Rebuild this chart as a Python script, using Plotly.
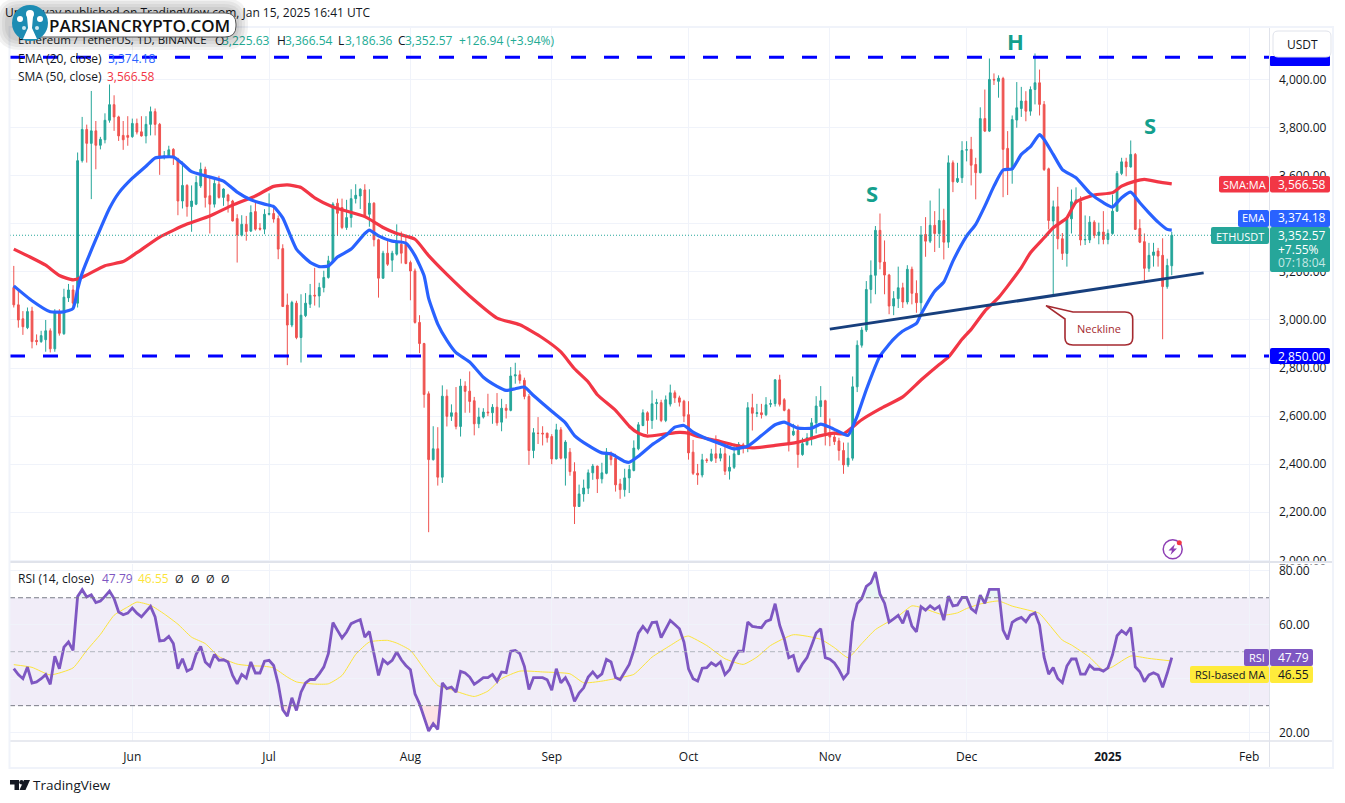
import numpy as np
import pandas as pd
import plotly.graph_objects as go

W, H = 1345, 803
FONT = "Open Sans"
GREEN = "#26a69a"
RED = "#ef5350"
TEXT = "#131722"
GRID = "#f0f3fa"
FRAME = "#e0e3eb"

# Daily candles, May 6 2024 to Jan 15 2025, one line per month.
opens = [
    3135, 3063, 3005, 2968, 3037, 2915, 2910, 2918, 2955, 2880, 3035, 2943, 3092, 3125, 3070, 3663, 3793, 3735, 3787, 3727, 3750, 3831, 3896, 3845, 3768, 3768,
    3763, 3818, 3783, 3766, 3814, 3867, 3814, 3677, 3680, 3710, 3671, 3495, 3560, 3472, 3482, 3558, 3627, 3517, 3482, 3565, 3510, 3520, 3495, 3422, 3353, 3398, 3370, 3451, 3382, 3378,
    3440, 3443, 3422, 3297, 3062, 2979, 3070, 2927, 3018, 3066, 3103, 3100, 3135, 3177, 3246, 3486, 3468, 3385, 3426, 3505, 3516, 3541, 3440, 3486, 3334, 3174, 3278, 3249, 3274, 3315, 3315,
    3239, 3204, 2990, 2902, 2693, 2419, 2464, 2346, 2683, 2599, 2614, 2557, 2725, 2704, 2664, 2568, 2596, 2617, 2614, 2637, 2575, 2633, 2624, 2767, 2772, 2749, 2682, 2457, 2529, 2529, 2529,
    2515, 2422, 2543, 2425, 2450, 2369, 2224, 2276, 2300, 2364, 2392, 2339, 2362, 2443, 2425, 2318, 2294, 2343, 2374, 2464, 2561, 2614, 2582, 2652, 2656, 2582, 2650, 2697, 2676, 2662,
    2606, 2450, 2362, 2355, 2418, 2415, 2443, 2425, 2443, 2371, 2387, 2440, 2481, 2478, 2635, 2611, 2614, 2606, 2649, 2652, 2751, 2668, 2626, 2522, 2540, 2440, 2481, 2510, 2572, 2640, 2664,
    2531, 2513, 2497, 2457, 2397, 2425, 2722, 2895, 2958, 3127, 3186, 3373, 3241, 3187, 3058, 3089, 3134, 3075, 3211, 3111, 3072, 3356, 3328, 3394, 3360, 3414, 3324, 3654, 3575, 3592,
    3707, 3710, 3647, 3613, 3838, 3786, 4001, 3993, 4005, 3714, 3626, 3832, 3880, 3911, 3869, 3959, 3987, 3897, 3629, 3412, 3471, 3338, 3277, 3421, 3492, 3492, 3333, 3333, 3407, 3352, 3366,
    3335, 3360, 3453, 3610, 3658, 3637, 3689, 3381, 3326, 3215, 3269, 3287, 3269, 3139, 3225.63,
]
highs = [
    3225, 3130, 3037, 3052, 3055, 2940, 2955, 3000, 2965, 3045, 3045, 3130, 3150, 3145, 3697, 3845, 3813, 3953, 3828, 3762, 3860, 3980, 3935, 3850, 3828, 3848,
    3838, 3838, 3848, 3848, 3888, 3880, 3820, 3703, 3725, 3715, 3675, 3659, 3565, 3560, 3600, 3655, 3638, 3592, 3592, 3600, 3548, 3525, 3500, 3440, 3436, 3433, 3477, 3495, 3403, 3461,
    3527, 3470, 3435, 3315, 3110, 3080, 3080, 3107, 3112, 3150, 3217, 3155, 3205, 3267, 3490, 3505, 3505, 3500, 3544, 3565, 3548, 3565, 3544, 3490, 3338, 3288, 3329, 3288, 3398, 3368, 3350,
    3247, 3214, 3020, 2905, 2703, 2558, 2554, 2728, 2711, 2649, 2721, 2755, 2745, 2786, 2680, 2635, 2633, 2693, 2650, 2696, 2672, 2650, 2804, 2822, 2790, 2760, 2692, 2550, 2596, 2558, 2531,
    2525, 2568, 2554, 2500, 2467, 2408, 2315, 2336, 2378, 2401, 2394, 2406, 2467, 2453, 2443, 2339, 2381, 2397, 2499, 2575, 2628, 2620, 2707, 2672, 2668, 2686, 2731, 2707, 2685, 2668,
    2662, 2501, 2401, 2443, 2425, 2464, 2520, 2467, 2478, 2436, 2485, 2492, 2489, 2658, 2693, 2651, 2651, 2679, 2669, 2753, 2772, 2675, 2631, 2568, 2564, 2510, 2529, 2592, 2683, 2725, 2668,
    2590, 2535, 2510, 2490, 2490, 2765, 2915, 2970, 3162, 3248, 3391, 3443, 3331, 3192, 3120, 3222, 3155, 3228, 3222, 3165, 3391, 3428, 3497, 3453, 3547, 3463, 3685, 3664, 3654, 3744,
    3744, 3762, 3675, 3885, 3959, 4088, 4026, 4018, 4012, 3786, 3851, 3990, 3970, 3952, 3972, 4109, 4042, 3911, 3634, 3497, 3554, 3362, 3433, 3543, 3552, 3515, 3435, 3432, 3415, 3405, 3453,
    3377, 3522, 3620, 3675, 3675, 3747, 3695, 3419, 3360, 3321, 3321, 3300, 3340, 3255, 3366.54,
]
lows = [
    3052, 2968, 2938, 2962, 2882, 2895, 2905, 2868, 2865, 2868, 2935, 2938, 3075, 3052, 3052, 3655, 3655, 3503, 3627, 3710, 3735, 3821, 3787, 3745, 3708, 3725,
    3758, 3772, 3763, 3735, 3768, 3768, 3604, 3668, 3675, 3645, 3436, 3464, 3430, 3367, 3478, 3550, 3468, 3360, 3468, 3505, 3475, 3447, 3410, 3239, 3348, 3330, 3366, 3372, 3372, 3357,
    3435, 3405, 3253, 3056, 2812, 2970, 2920, 2823, 3012, 3050, 3060, 3052, 3115, 3172, 3240, 3350, 3378, 3375, 3385, 3485, 3462, 3425, 3388, 3306, 3093, 3172, 3225, 3200, 3268, 3235, 3232,
    3082, 2985, 2862, 2635, 2117, 2415, 2311, 2322, 2557, 2580, 2545, 2515, 2614, 2614, 2520, 2550, 2590, 2600, 2568, 2560, 2537, 2590, 2620, 2735, 2735, 2670, 2397, 2425, 2484, 2478, 2490,
    2400, 2420, 2420, 2311, 2352, 2151, 2222, 2244, 2276, 2335, 2280, 2320, 2358, 2395, 2286, 2256, 2265, 2280, 2370, 2458, 2558, 2526, 2547, 2585, 2575, 2575, 2640, 2655, 2640, 2575,
    2419, 2355, 2314, 2345, 2405, 2410, 2405, 2412, 2355, 2336, 2380, 2438, 2445, 2450, 2540, 2596, 2590, 2600, 2637, 2640, 2640, 2620, 2453, 2517, 2385, 2435, 2478, 2478, 2528, 2596, 2478,
    2475, 2480, 2415, 2360, 2388, 2415, 2700, 2885, 2950, 3069, 3107, 3211, 3107, 3024, 3020, 3050, 3050, 3065, 3065, 3030, 3035, 3263, 3320, 3283, 3300, 3252, 3300, 3532, 3570, 3570,
    3660, 3560, 3502, 3610, 3782, 3782, 3978, 3925, 3511, 3520, 3567, 3800, 3845, 3827, 3850, 3897, 3851, 3620, 3377, 3107, 3294, 3250, 3222, 3360, 3485, 3310, 3312, 3320, 3340, 3315, 3315,
    3315, 3355, 3450, 3603, 3598, 3634, 3375, 3320, 3162, 3200, 3222, 3222, 2920, 3130, 3186.36,
]
closes = [
    3063, 3000, 2972, 3035, 2910, 2910, 2935, 2955, 2880, 3035, 2945, 3095, 3125, 3070, 3663, 3793, 3735, 3787, 3727, 3752, 3831, 3896, 3845, 3766, 3750, 3760,
    3818, 3782, 3766, 3814, 3867, 3814, 3677, 3682, 3708, 3680, 3495, 3560, 3472, 3495, 3572, 3627, 3510, 3482, 3568, 3510, 3545, 3495, 3412, 3354, 3398, 3368, 3447, 3378, 3378, 3440,
    3443, 3420, 3295, 3056, 2979, 3073, 2927, 3020, 3070, 3103, 3100, 3135, 3177, 3246, 3482, 3444, 3385, 3426, 3505, 3519, 3544, 3433, 3486, 3334, 3174, 3278, 3232, 3278, 3322, 3278, 3235,
    3204, 2990, 2902, 2690, 2419, 2464, 2346, 2683, 2599, 2614, 2557, 2725, 2703, 2661, 2568, 2596, 2617, 2614, 2637, 2572, 2633, 2624, 2767, 2772, 2749, 2682, 2457, 2531, 2528, 2526, 2510,
    2422, 2543, 2425, 2492, 2369, 2224, 2276, 2301, 2364, 2392, 2339, 2364, 2450, 2419, 2314, 2294, 2343, 2378, 2467, 2564, 2614, 2582, 2651, 2656, 2582, 2668, 2697, 2676, 2658, 2600,
    2447, 2362, 2355, 2418, 2415, 2443, 2425, 2443, 2371, 2387, 2443, 2482, 2475, 2635, 2612, 2614, 2606, 2647, 2652, 2751, 2649, 2624, 2485, 2537, 2440, 2485, 2510, 2572, 2642, 2664, 2531,
    2513, 2494, 2457, 2397, 2425, 2722, 2895, 2958, 3127, 3186, 3373, 3241, 3187, 3058, 3089, 3134, 3075, 3211, 3111, 3072, 3353, 3328, 3394, 3360, 3414, 3324, 3654, 3575, 3589, 3705,
    3708, 3644, 3613, 3838, 3786, 4001, 3999, 4006, 3710, 3626, 3834, 3883, 3911, 3869, 3959, 3987, 3897, 3626, 3414, 3471, 3338, 3277, 3421, 3492, 3500, 3333, 3335, 3407, 3352, 3366, 3335,
    3360, 3453, 3610, 3658, 3637, 3689, 3377, 3324, 3215, 3269, 3283, 3266, 3139, 3227, 3352.57,
]

ema_dates = [
    "2024-05-06", "2024-05-10", "2024-05-14", "2024-05-17", "2024-05-19", "2024-05-20", "2024-05-21", "2024-05-24", "2024-05-27", "2024-05-29",
    "2024-06-01", "2024-06-04", "2024-06-06", "2024-06-10", "2024-06-12", "2024-06-14", "2024-06-17", "2024-06-21", "2024-06-24", "2024-06-27", "2024-06-30",
    "2024-07-02", "2024-07-04", "2024-07-07", "2024-07-10", "2024-07-12", "2024-07-14", "2024-07-16", "2024-07-19", "2024-07-22", "2024-07-23", "2024-07-25", "2024-07-28", "2024-07-31",
    "2024-08-02", "2024-08-04", "2024-08-05", "2024-08-07", "2024-08-09", "2024-08-11", "2024-08-14", "2024-08-17", "2024-08-20", "2024-08-22", "2024-08-24", "2024-08-26", "2024-08-28",
    "2024-09-01", "2024-09-04", "2024-09-06", "2024-09-09", "2024-09-12", "2024-09-14", "2024-09-17", "2024-09-18", "2024-09-20", "2024-09-23", "2024-09-26", "2024-09-28", "2024-09-30",
    "2024-10-02", "2024-10-05", "2024-10-08", "2024-10-11", "2024-10-14", "2024-10-17", "2024-10-20", "2024-10-22", "2024-10-25", "2024-10-28", "2024-10-30",
    "2024-11-01", "2024-11-04", "2024-11-05", "2024-11-07", "2024-11-09", "2024-11-12", "2024-11-15", "2024-11-17", "2024-11-20", "2024-11-21", "2024-11-24", "2024-11-26", "2024-11-28",
    "2024-12-01", "2024-12-03", "2024-12-05", "2024-12-07", "2024-12-09", "2024-12-11", "2024-12-13", "2024-12-15", "2024-12-17", "2024-12-18", "2024-12-20", "2024-12-22", "2024-12-25", "2024-12-28", "2024-12-31",
    "2025-01-02", "2025-01-04", "2025-01-06", "2025-01-08", "2025-01-10", "2025-01-12", "2025-01-14", "2025-01-15",
]
ema_values = [
    3142, 3080, 3034, 3034, 3048, 3128, 3195, 3335, 3465, 3528,
    3590, 3640, 3674, 3678, 3650, 3617, 3600, 3578, 3532, 3500, 3482,
    3472, 3425, 3295, 3240, 3222, 3225, 3262, 3295, 3360, 3374, 3350, 3328, 3320,
    3268, 3184, 3090, 2983, 2915, 2864, 2825, 2762, 2724, 2707, 2714, 2721, 2686,
    2620, 2572, 2519, 2478, 2447, 2443, 2411, 2408, 2433, 2481, 2519, 2554, 2561,
    2533, 2506, 2485, 2464, 2475, 2519, 2564, 2575, 2550, 2550, 2567,
    2554, 2526, 2520, 2600, 2710, 2850, 2920, 2954, 2986, 3024, 3120, 3158, 3245,
    3349, 3398, 3474, 3557, 3624, 3629, 3689, 3721, 3771, 3751, 3689, 3626, 3592, 3529, 3488,
    3470, 3509, 3532, 3488, 3446, 3407, 3377, 3374.18,
]

sma_dates = [
    "2024-05-06", "2024-05-10", "2024-05-13", "2024-05-16", "2024-05-19", "2024-05-21", "2024-05-26", "2024-05-30",
    "2024-06-02", "2024-06-07", "2024-06-13", "2024-06-18", "2024-06-23", "2024-06-28",
    "2024-07-02", "2024-07-05", "2024-07-08", "2024-07-11", "2024-07-15", "2024-07-22", "2024-07-26", "2024-07-29",
    "2024-08-02", "2024-08-05", "2024-08-09", "2024-08-15", "2024-08-20", "2024-08-25", "2024-08-30",
    "2024-09-03", "2024-09-06", "2024-09-09", "2024-09-11", "2024-09-15", "2024-09-18", "2024-09-20", "2024-09-22", "2024-09-26", "2024-09-29",
    "2024-10-01", "2024-10-03", "2024-10-07", "2024-10-11", "2024-10-15", "2024-10-20", "2024-10-25", "2024-10-30",
    "2024-11-02", "2024-11-04", "2024-11-08", "2024-11-12", "2024-11-17", "2024-11-21", "2024-11-25", "2024-11-27", "2024-11-30",
    "2024-12-02", "2024-12-05", "2024-12-08", "2024-12-10", "2024-12-13", "2024-12-15", "2024-12-18", "2024-12-20", "2024-12-23", "2024-12-25", "2024-12-29",
    "2025-01-02", "2025-01-04", "2025-01-07", "2025-01-09", "2025-01-12", "2025-01-15",
]
sma_values = [
    3295, 3258, 3228, 3185, 3167, 3178, 3226, 3243,
    3280, 3345, 3399, 3433, 3478, 3516,
    3556, 3562, 3551, 3508, 3470, 3430, 3385, 3360,
    3336, 3268, 3190, 3083, 3008, 2980, 2925,
    2867, 2797, 2742, 2689, 2624, 2558, 2529, 2517, 2526, 2532,
    2529, 2515, 2499, 2480, 2468, 2478, 2492, 2519,
    2529, 2526, 2585, 2630, 2680, 2750, 2815, 2845, 2920,
    2961, 3037, 3093, 3141, 3218, 3280, 3342, 3384, 3425, 3491, 3520,
    3530, 3557, 3578, 3585, 3575, 3566.58,
]

# RSI (14), same days as the candles.
rsi_values = [
    43.7, 41.5, 40, 44.3, 38.4, 38.8, 40, 41.5, 37.9, 48.3, 43.7, 51.7, 53.6, 50.5, 70.5, 73, 70.3, 71.1, 68.2, 68.8, 70.5, 72.5, 69.7, 64.7, 63.7, 64.3,
    66.2, 64.3, 62.9, 64.7, 66.8, 62.9, 54, 54.2, 55.7, 53, 43.7, 47.4, 42.8, 43.7, 49, 52, 46.2, 44.6, 49, 46.8, 47, 46.2, 41.2, 38.1, 41.6, 40.2, 46.2, 42.1, 42.1, 46.5,
    46.8, 44.9, 38.1, 28.5, 26.1, 32.9, 28.2, 35, 38.4, 39.7, 39.7, 41.8, 44.3, 49.3, 60.8, 57.9, 55.1, 57.3, 60.4, 61.2, 61.9, 55.4, 57.5, 49.3, 41.2, 47, 45.5, 46.8, 49.9, 47, 44.9,
    43.3, 34.4, 30.7, 25.8, 20.6, 23.3, 21.2, 38.4, 36.3, 36.9, 35, 42.7, 42.1, 40.6, 37.9, 39.1, 40.4, 40.4, 41.6, 39.1, 42.5, 42.2, 50.2, 50.5, 49.3, 44.6, 36, 40.4, 40.4, 40.4, 39.6,
    35.7, 43.7, 38.5, 40.4, 37.1, 31.6, 34.7, 36.6, 40.6, 42.5, 40.4, 41.8, 47.2, 46.2, 40.4, 39.6, 42.5, 45.3, 50.5, 56.9, 59.4, 57.3, 60.8, 61, 55.2, 58.2, 61.6, 60.1, 58.5, 53.6,
    43.7, 40, 39.1, 43.9, 44.1, 45.9, 44.8, 46.2, 41.5, 43.3, 47.4, 50.2, 50.2, 61, 59.4, 59.1, 58.9, 61.2, 61.9, 67.8, 59.8, 54.8, 47.8, 48.6, 42.5, 45.5, 47.8, 52.3, 56.9, 58.5, 47.8,
    47.2, 45.8, 43.3, 40, 42.1, 61, 67.8, 69.7, 74.2, 75.5, 79.5, 71.3, 68, 61, 62.2, 63.5, 60.5, 65.2, 59.5, 57.4, 66.7, 65.4, 67, 65.7, 66.9, 61.7, 70.6, 67, 67.3, 70.1,
    70.1, 66, 64.6, 71, 67.9, 73.1, 73.1, 73.1, 58, 54.6, 60.9, 62, 62.7, 61.1, 63.6, 64.4, 59.9, 48, 41.7, 44.1, 40.1, 38.5, 44.7, 47.3, 47.3, 41.7, 41.7, 45, 43.5, 43.5, 42.8,
    44, 48.8, 55.9, 57.8, 56.5, 59, 44.4, 42.6, 38.9, 41.4, 42.2, 41.4, 36.8, 42, 47.79,
]

rsi_ma_dates = [
    "2024-05-06", "2024-05-10", "2024-05-14", "2024-05-19", "2024-05-22", "2024-05-25", "2024-05-28", "2024-05-31",
    "2024-06-02", "2024-06-05", "2024-06-08", "2024-06-11", "2024-06-14", "2024-06-17", "2024-06-20", "2024-06-24", "2024-06-27", "2024-06-30",
    "2024-07-02", "2024-07-05", "2024-07-07", "2024-07-11", "2024-07-14", "2024-07-17", "2024-07-20", "2024-07-23", "2024-07-27", "2024-07-29",
    "2024-08-01", "2024-08-04", "2024-08-07", "2024-08-10", "2024-08-15", "2024-08-18", "2024-08-21", "2024-08-25", "2024-08-30",
    "2024-09-05", "2024-09-08", "2024-09-12", "2024-09-16", "2024-09-19", "2024-09-23", "2024-09-27", "2024-09-30",
    "2024-10-01", "2024-10-05", "2024-10-09", "2024-10-13", "2024-10-16", "2024-10-19", "2024-10-24", "2024-10-30",
    "2024-11-02", "2024-11-05", "2024-11-08", "2024-11-11", "2024-11-16", "2024-11-19", "2024-11-21", "2024-11-26", "2024-11-29",
    "2024-12-01", "2024-12-04", "2024-12-08", "2024-12-11", "2024-12-16", "2024-12-17", "2024-12-22", "2024-12-24", "2024-12-28", "2024-12-31",
    "2025-01-02", "2025-01-06", "2025-01-10", "2025-01-15",
]
rsi_ma_values = [
    45.2, 44.2, 41.4, 44, 50.5, 56.4, 63.5, 66.6,
    68.4, 67.2, 64, 60.2, 55.4, 53, 48.2, 45.4, 44.8, 44.6,
    44, 40.6, 38.8, 38, 38.1, 41.2, 49, 53.6, 54.2, 53.2,
    50.5, 43.7, 37.5, 35.9, 33.4, 35.4, 40, 42.8, 42.5,
    41.8, 38.5, 39.1, 40.4, 41.6, 48, 52.3, 55.4,
    55.8, 52.3, 47.4, 45.3, 48, 52.3, 56.3, 54.6,
    51.5, 47.8, 53, 58.2, 63.2, 67, 66.4, 63.6, 64.4,
    66, 67.7, 68.8, 66.9, 64.8, 64.2, 54.3, 52.5, 47.9, 43.2,
    44.4, 48.4, 47.5, 46.55,
]

neckline_dates = ["2024-11-01", "2025-01-22"]
neckline_prices = [2962, 3196]
support_levels = [4093, 2850]
price_ticks = [2000, 2200, 2400, 2600, 2800, 3000, 3200, 3400, 3600, 3800, 4000]
price_tick_text = ["2,000.00", "2,200.00", "2,400.00", "2,600.00", "2,800.00", "3,000.00", "3,200.00", "", "3,600.00", "3,800.00", "4,000.00"]
rsi_ticks = [20, 40, 60, 80]
rsi_tick_text = ["20.00", "", "60.00", "80.00"]
month_ticks = ["2024-06-01", "2024-07-01", "2024-08-01", "2024-09-01", "2024-10-01", "2024-11-01", "2024-12-01", "2025-01-01", "2025-02-01"]
month_labels = ["Jun", "Jul", "Aug", "Sep", "Oct", "Nov", "Dec", "<b>2025</b>", "Feb"]

dates = pd.date_range("2024-05-06", periods=len(closes), freq="D")
rsi = np.array(rsi_values)


def px(x):
    return x / W


def py(y):
    return 1 - y / H


def path(points):
    # pixel points to a closed paper-coordinate path
    cmds = [("M" if i == 0 else "L") + f"{px(x):.5f},{py(y):.5f}" for i, (x, y) in enumerate(points)]
    return " ".join(cmds) + " Z"


def rrect(x0, y0, x1, y1, r):
    def p(x, y):
        return f"{px(x):.5f},{py(y):.5f}"
    return (f"M{p(x0 + r, y0)} L{p(x1 - r, y0)} Q{p(x1, y0)} {p(x1, y0 + r)} L{p(x1, y1 - r)} Q{p(x1, y1)} {p(x1 - r, y1)} "
            f"L{p(x0 + r, y1)} Q{p(x0, y1)} {p(x0, y1 - r)} L{p(x0, y0 + r)} Q{p(x0, y0)} {p(x0 + r, y0)} Z")


shapes = []
annotations = []


def add_path(d, fill="rgba(0,0,0,0)", line=None, width=1, layer="above"):
    shapes.append(dict(type="path", path=d, xref="paper", yref="paper", fillcolor=fill, layer=layer,
                       line=dict(color=line or "rgba(0,0,0,0)", width=width if line else 0)))


def box(x0, y0, x1, y1, fill, r=0, line=None, width=1):
    add_path(rrect(x0, y0, x1, y1, r) if r else path([(x0, y0), (x1, y0), (x1, y1), (x0, y1)]), fill, line, width)


def circle(cx, cy, r, fill, line=None, width=1):
    shapes.append(dict(type="circle", xref="paper", yref="paper", x0=px(cx - r), x1=px(cx + r), y0=py(cy + r), y1=py(cy - r),
                       fillcolor=fill, line=dict(color=line or "rgba(0,0,0,0)", width=width if line else 0), layer="above"))


def label(x, y, text, color=TEXT, size=12, anchor="left", weight=None):
    annotations.append(dict(x=px(x), y=py(y), xref="paper", yref="paper", text=text, showarrow=False, xanchor=anchor, yanchor="middle",
                            font=dict(family=FONT, size=size, color=color, weight=weight), borderpad=0, borderwidth=0))


fig = go.Figure()

# candles
fig.add_trace(go.Candlestick(
    x=dates, open=opens, high=highs, low=lows, close=closes, xaxis="x", yaxis="y", whiskerwidth=0, hoverinfo="skip",
    increasing=dict(line=dict(color=GREEN, width=1), fillcolor=GREEN),
    decreasing=dict(line=dict(color=RED, width=1), fillcolor=RED),
))
fig.add_trace(go.Scatter(x=sma_dates, y=sma_values, mode="lines", line=dict(color="#f23645", width=3.2, shape="spline", smoothing=0.5), xaxis="x", yaxis="y", hoverinfo="skip"))
fig.add_trace(go.Scatter(x=ema_dates, y=ema_values, mode="lines", line=dict(color="#2962ff", width=3.2, shape="spline", smoothing=0.5), xaxis="x", yaxis="y", hoverinfo="skip"))
fig.add_trace(go.Scatter(x=neckline_dates, y=neckline_prices, mode="lines", line=dict(color="#173f7d", width=3), xaxis="x", yaxis="y", hoverinfo="skip"))

# rsi pane: oversold and overbought tints, then the two lines
fig.add_trace(go.Scatter(x=dates, y=[30] * len(dates), mode="lines", line=dict(width=0), xaxis="x2", yaxis="y2", hoverinfo="skip"))
fig.add_trace(go.Scatter(x=dates, y=np.minimum(rsi, 30), mode="lines", line=dict(width=0), fill="tonexty", fillcolor="rgba(242,54,69,0.14)", xaxis="x2", yaxis="y2", hoverinfo="skip"))
fig.add_trace(go.Scatter(x=dates, y=[70] * len(dates), mode="lines", line=dict(width=0), xaxis="x2", yaxis="y2", hoverinfo="skip"))
fig.add_trace(go.Scatter(x=dates, y=np.maximum(rsi, 70), mode="lines", line=dict(width=0), fill="tonexty", fillcolor="rgba(38,166,154,0.10)", xaxis="x2", yaxis="y2", hoverinfo="skip"))
fig.add_trace(go.Scatter(x=rsi_ma_dates, y=rsi_ma_values, mode="lines", line=dict(color="#fbe43b", width=1, shape="spline", smoothing=0.5), xaxis="x2", yaxis="y2", hoverinfo="skip"))
fig.add_trace(go.Scatter(x=dates, y=rsi, mode="lines", line=dict(color="#7e57c2", width=2.8), xaxis="x2", yaxis="y2", hoverinfo="skip"))

# header text goes on a full-page overlay so that the logo can sit on top of it
fig.add_trace(go.Scatter(
    x=[370], y=[14], mode="text", text=["Upadhyay published on TradingView.com, Jan 15, 2025 16:41 UTC"], textposition="middle left",
    textfont=dict(family=FONT, size=12, color=TEXT), xaxis="x3", yaxis="y3", hoverinfo="skip", cliponaxis=False))
fig.add_trace(go.Scatter(
    x=[18, 215, 222, 277, 285, 338, 345, 398, 405, 459], y=[41.5] * 10, mode="text",
    text=["Ethereum / TetherUS, 1D, BINANCE", "O", "3,225.63", "H", "3,366.54", "L", "3,186.36", "C", "3,352.57", "+126.94 (+3.94%)"],
    textposition="middle right",
    textfont=dict(family=FONT, size=[11.5, 12, 12, 12, 12, 12, 12, 12, 12, 12],
                  color=[TEXT, TEXT, "#22ab94", TEXT, "#22ab94", TEXT, "#22ab94", TEXT, "#22ab94", "#22ab94"]),
    xaxis="x3", yaxis="y3", hoverinfo="skip", cliponaxis=False))

# rsi band and guide lines
shapes.append(dict(type="rect", xref="paper", yref="y2", x0=px(10), x1=px(1270), y0=30, y1=70, fillcolor="rgba(126,87,194,0.11)", line=dict(width=0), layer="below"))
for level, color in [(70, "#787b86"), (50, "#b2b5be"), (30, "#787b86")]:
    shapes.append(dict(type="line", xref="paper", yref="y2", x0=px(10), x1=px(1270), y0=level, y1=level, line=dict(color=color, width=1, dash="5px,3px"), layer="above"))

# last price dotted line and the blue support/resistance levels
shapes.append(dict(type="line", xref="paper", yref="y", x0=px(10), x1=px(1211), y0=closes[-1], y1=closes[-1], line=dict(color=GREEN, width=1, dash="1px,2px"), layer="above"))
for level in support_levels:
    shapes.append(dict(type="line", xref="paper", yref="y", x0=px(10), x1=px(1270), y0=level, y1=level, line=dict(color="#0000ff", width=3, dash="15px,18px"), layer="above"))

# frame
box(1270, 562.5, 1332, 564.5, "#ffffff")
shapes.append(dict(type="line", xref="paper", yref="paper", x0=px(10), x1=px(1333), y0=py(562), y1=py(562), line=dict(color=FRAME, width=2), layer="above"))
shapes.append(dict(type="line", xref="paper", yref="paper", x0=px(10), x1=px(1333), y0=py(741), y1=py(741), line=dict(color=FRAME, width=1.5), layer="above"))
shapes.append(dict(type="line", xref="paper", yref="paper", x0=px(1269.5), x1=px(1269.5), y0=py(28), y1=py(767), line=dict(color=FRAME, width=1), layer="above"))
shapes.append(dict(type="rect", xref="paper", yref="paper", x0=px(9.5), x1=px(1333), y0=py(768), y1=py(27), line=dict(color=GRID, width=2), fillcolor="rgba(0,0,0,0)", layer="above"))

# price scale boxes
box(1270, 56, 1330, 66, "#0000ff", 1)
box(1273, 31, 1331, 57, "#ffffff", 5, FRAME, 1)
label(1302, 44, "USDT", size=12, anchor="center")
box(1219, 176, 1269, 192.5, "#f23645", 2)
box(1270, 176, 1330, 192.5, "#f23645", 2)
label(1244, 184.5, "SMA:MA", "#ffffff", 11, "center")
label(1278, 184.5, "3,566.58", "#ffffff")
box(1238, 210, 1269, 227, "#2962ff", 2)
box(1270, 210, 1330, 227, "#2962ff", 2)
label(1253.5, 218, "EMA", "#ffffff", 11, "center")
label(1278, 218, "3,374.18", "#ffffff")
box(1211, 227, 1269, 244, GREEN, 2)
box(1270, 227, 1330, 272, GREEN, 2)
label(1240, 236, "ETHUSDT", "#ffffff", 11, "center")
label(1278, 235.5, "3,352.57", "#ffffff")
label(1278, 249, "+7.55%", "#ffffff")
label(1278, 262.5, "07:18:04", "#c5e8e4")
box(1270, 348, 1330, 364, "#0000ff", 2)
label(1278, 356, "2,850.00", "#ffffff")

# rsi scale boxes
box(1244, 649, 1269, 666, "#7e57c2", 2)
box(1270, 649, 1313, 666, "#7e57c2", 2)
label(1256.5, 657.5, "RSI", "#ffffff", 11, "center")
label(1278, 657.5, "47.79", "#ffffff")
box(1190, 666, 1269, 683, "#ffeb3b", 2)
box(1270, 666, 1313, 683, "#ffeb3b", 2)
label(1229.5, 674.5, "RSI-based MA", TEXT, 11, "center")
label(1278, 674.5, "46.55", TEXT)

# neckline callout
callout = (f"M{px(1046):.5f},{py(305.7):.5f} L{px(1073):.5f},{py(312):.5f} L{px(1125):.5f},{py(312):.5f} "
           f"Q{px(1132.7):.5f},{py(312):.5f} {px(1132.7):.5f},{py(319):.5f} L{px(1132.7):.5f},{py(338):.5f} "
           f"Q{px(1132.7):.5f},{py(345):.5f} {px(1125):.5f},{py(345):.5f} L{px(1073):.5f},{py(345):.5f} "
           f"Q{px(1065):.5f},{py(345):.5f} {px(1065):.5f},{py(338):.5f} L{px(1065):.5f},{py(319):.5f} Z")
add_path(callout, "#ffffff", "#a52a30", 1.6)
label(1099, 328, "Neckline", "#a52a30", 11, "center")

# head and shoulders letters
label(871.7, 192.7, "<b>S</b>", "#14a08d", 22, "center")
label(1015, 40.7, "<b>H</b>", "#14a08d", 22, "center")
label(1150, 125, "<b>S</b>", "#14a08d", 22, "center")

# legend rows
label(18, 59, "EMA (20, close)")
label(108, 59, "3,374.18", "#2962ff")
label(18, 76, "SMA (50, close)")
label(107, 76, "3,566.58", "#f23645")
label(18, 578, "RSI (14, close)")
label(102, 578, "47.79", "#7e57c2")
label(138, 578, "46.55", "#fbe43b")
for x in (175, 191, 206, 221):
    label(x, 578, "Ø", TEXT, 11)

# watermark pill with shadow
for grow in (12, 9, 6, 3):
    box(8 - grow, 10 - grow, 236 + grow, 38 + grow, "rgba(0,0,0,0.05)", 12 + grow)
box(30, 13, 236, 37, "#ffffff", 11, "#555555", 1)
circle(30, 23, 18, "#1d8cb3")
circle(30, 14, 4, "#ffffff")
circle(20, 19, 3, "#ffffff")
circle(40, 19, 3, "#ffffff")
circle(24, 28, 2, "#cfe9f2")
circle(37, 28, 2, "#cfe9f2")
add_path(path([(27, 17), (33, 17), (32, 28), (37, 39), (23, 39), (28, 28)]), "#ffffff")
label(49, 25.5, "PARSIANCRYPTO.COM", "#111111", 17, weight=600)

# lightning badge
circle(1172.7, 549.3, 9.5, "#ffffff", "#8e3fb4", 1.5)
add_path(path([(1175, 544), (1168.5, 550.5), (1172, 550.5), (1170.5, 555), (1177, 548.5), (1173.5, 548.5)]), "#8e3fb4")
circle(1179.3, 542.7, 2.5, "#f23645")

# tradingview mark
add_path(path([(10, 780), (19, 780), (19, 790), (14.5, 790), (14.5, 784.5), (10, 784.5)]), "#131722")
circle(21.5, 782.2, 2.2, "#131722")
add_path(path([(24, 780), (30, 780), (25.5, 790), (19.5, 790)]), "#131722")
label(33, 785, "TradingView", TEXT, 13.5)

x_start = pd.Timestamp("2024-06-01") - pd.Timedelta(days=26.83)
x_end = pd.Timestamp("2024-06-01") + pd.Timedelta(days=249.55)
x_domain = [px(10), px(1270)]

fig.update_layout(
    width=W, height=H, autosize=False, margin=dict(l=0, r=0, t=0, b=0, autoexpand=False), showlegend=False,
    paper_bgcolor="#ffffff", plot_bgcolor="rgba(0,0,0,0)", boxgap=0.45,
    font=dict(family=FONT, size=12, color=TEXT), shapes=shapes, annotations=annotations,
    xaxis=dict(domain=x_domain, anchor="y", type="date", range=[x_start, x_end], rangeslider=dict(visible=False), automargin=False,
               tickvals=month_ticks, ticktext=[""] * len(month_ticks), ticklen=0, showgrid=True, gridcolor=GRID, gridwidth=1, zeroline=False, showline=False),
    yaxis=dict(domain=[py(562), py(28)], anchor="x", side="right", range=[1993, 4215], tickvals=price_ticks, automargin=False,
               ticktext=price_tick_text, ticklen=0, ticklabelstandoff=8, showgrid=True, gridcolor=GRID, gridwidth=1, zeroline=False, showline=False),
    xaxis2=dict(domain=x_domain, anchor="y2", type="date", matches="x", tickvals=month_ticks, ticktext=month_labels, ticklen=0, ticklabelstandoff=7, automargin=False,
                showgrid=True, gridcolor=GRID, gridwidth=1, zeroline=False, showline=False),
    yaxis2=dict(domain=[py(741), py(563.5)], anchor="x2", side="right", range=[16.9, 82.7], tickvals=rsi_ticks, ticktext=rsi_tick_text, automargin=False,
                ticklen=0, ticklabelstandoff=8, showgrid=True, gridcolor=GRID, gridwidth=1, zeroline=False, showline=False),
    xaxis3=dict(domain=[0, 1], anchor="y3", range=[0, W], visible=False, fixedrange=True, automargin=False),
    yaxis3=dict(domain=[0, 1], anchor="x3", range=[H, 0], visible=False, fixedrange=True, automargin=False),
)

fig.write_html("out.html", config=dict(displayModeBar=False), post_script="document.body.style.margin='0';document.body.style.overflow='hidden';")
